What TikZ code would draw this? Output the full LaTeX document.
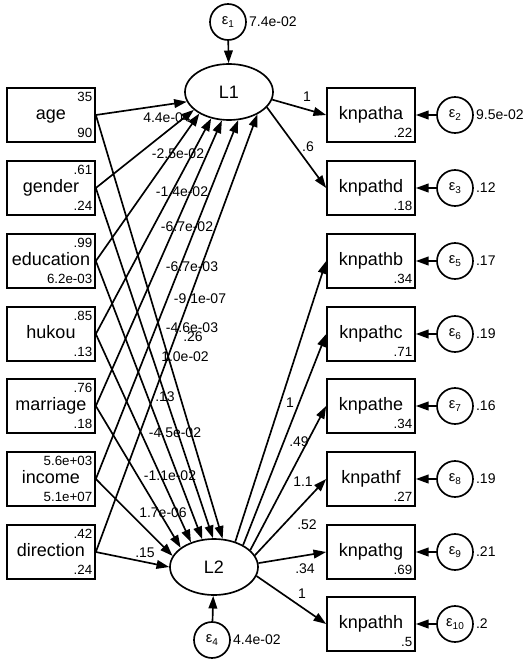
\documentclass[tikz,border=0pt]{standalone}
\usepackage{fontspec}
\setmainfont{Liberation Sans}
\usetikzlibrary{arrows.meta,shapes.geometric}

% error term label: epsilon with a small index
\newcommand{\errlab}[1]{{\fontsize{11}{12}\selectfont ε}\raisebox{-0.35ex}{\fontsize{7.5}{8}\selectfont #1}}

\begin{document}
\begin{tikzpicture}[x=0.75pt, y=-0.75pt,
  obsbox/.style={draw, line width=1.25pt, minimum width=66pt, minimum height=40.5pt,
    inner sep=0pt, text height=0.72em, text depth=0pt, font=\fontsize{13.5}{16}\selectfont},
  latent/.style={ellipse, draw, line width=1.25pt, minimum width=66pt, minimum height=42pt,
    inner sep=0pt, font=\fontsize{13.5}{16}\selectfont},
  errcirc/.style={circle, draw, line width=1.25pt, minimum size=27pt, inner sep=0pt},
  boxnum/.style={inner xsep=2.5pt, inner ysep=3.5pt, font=\fontsize{10}{12}\selectfont},
  coef/.style={inner sep=0pt, font=\fontsize{10.5}{12}\selectfont},
  sempath/.style={line width=1.25pt, -{Triangle[length=9.5pt, width=6.5pt]}}]

\useasboundingbox (0,0) rectangle (529,660);

%% ------------------------------------------------------------------
%% observed exogenous variables (left column): mean on top, variance below
%% ------------------------------------------------------------------
\foreach \nm/\yy/\mn/\vr in {age/115/35/90, gender/188/.61/.24,
    education/261/.99/6.2e-03, hukou/334/.85/.13, marriage/406/.76/.18,
    income/479/5.6e+03/5.1e+07, direction/552/.42/.24}{
  \node[obsbox] (\nm) at (51,\yy) {\nm};
  \node[boxnum, anchor=north east] (\nm-mn) at (\nm.north east) {\mn};
  \node[boxnum, anchor=south east] (\nm-vr) at (\nm.south east) {\vr};
}

%% ------------------------------------------------------------------
%% indicators (right column)
%% ------------------------------------------------------------------
\foreach \nm/\yy/\vr in {knpatha/115/.22, knpathd/188/.18, knpathb/261/.34,
    knpathc/334/.71, knpathe/406/.34, knpathf/479/.27, knpathg/552/.69,
    knpathh/624/.5}{
  \node[obsbox] (\nm) at (371,\yy) {\nm};
  \node[boxnum, anchor=south east] (\nm-vr) at (\nm.south east) {\vr};
}

% latent variables
\node[latent] (L1) at (229,92) {L1};
\node[latent] (L2) at (214,567) {L2};

% disturbances of the latents
\node[errcirc] (e1) at (228,22) {\errlab{1}};
\node[coef, anchor=west] (e1-v) at ([xshift=1.5pt]e1.east) {7.4e-02};
\draw[sempath] (e1) -- (L1);

\node[errcirc] (e4) at (212,640) {\errlab{4}};
\node[coef, anchor=west] (e4-v) at ([xshift=1.5pt]e4.east) {4.4e-02};
\draw[sempath] (e4) -- (L2);

% measurement errors of the indicators
\foreach \nm/\yy/\k/\ev in {knpatha/115/2/9.5e-02, knpathd/188/3/.12,
    knpathb/261/5/.17, knpathc/334/6/.19, knpathe/406/7/.16,
    knpathf/479/8/.19, knpathg/552/9/.21, knpathh/624/10/.2}{
  \node[errcirc] (e\k) at (455,\yy) {\errlab{\k}};
  \node[coef, anchor=west] (e\k-v) at ([xshift=1.5pt]e\k.east) {\ev};
  \draw[sempath] (e\k) -- (\nm);
}

%% ------------------------------------------------------------------
%% structural paths: every exogenous box into both latents
%% ------------------------------------------------------------------
\foreach \nm/\ang/\lx/\ly/\cf in {age/193/167/118/4.4e-04,
    gender/207/178/154/-2.5e-02, education/216/182/192/-1.4e-02,
    hukou/236/187/227/-6.7e-02, marriage/256/192/267/-6.7e-03,
    income/288/200/299/-9.1e-07, direction/322/192/328/-4.6e-03}{
  \draw[sempath] (\nm.east) -- (L1.\ang);
  \node[coef] (\nm-c1) at (\lx,\ly) {\cf};
}

\foreach \nm/\ang/\lx/\ly/\cf in {age/73/193/337/.26,
    gender/92/185/357/1.0e-02, education/113/165/397/.13,
    hukou/133/175/433/-4.5e-02, marriage/150/170/476/-1.1e-02,
    income/165/163/513/1.7e-06, direction/180/145/553/.15}{
  \draw[sempath] (\nm.east) -- (L2.\ang);
  \node[coef] (\nm-c2) at (\lx,\ly) {\cf};
}

%% ------------------------------------------------------------------
%% loadings
%% ------------------------------------------------------------------
\foreach \nm/\ang/\lx/\ly/\cf in {knpatha/350/307/97/1, knpathd/338/308/147/.6}{
  \draw[sempath] (L1.\ang) -- (\nm.west);
  \node[coef] (\nm-ld) at (\lx,\ly) {\cf};
}

\foreach \nm/\ang/\lx/\ly/\cf in {knpathb/50/290/403/1, knpathc/37/299/442/.49,
    knpathe/25/303/482/1.1, knpathf/16/307/525/.52, knpathg/5/305/569/.34,
    knpathh/348/302/594/1}{
  \draw[sempath] (L2.\ang) -- (\nm.west);
  \node[coef] (\nm-ld) at (\lx,\ly) {\cf};
}

\end{tikzpicture}
\end{document}
